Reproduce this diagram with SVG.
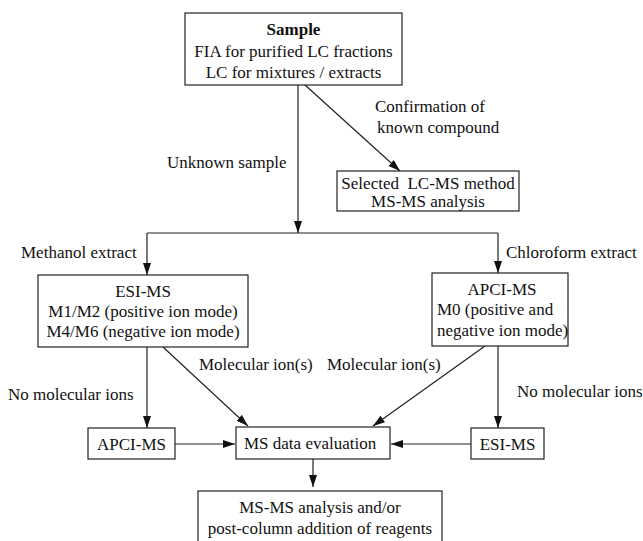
<svg xmlns="http://www.w3.org/2000/svg" width="643" height="541" viewBox="0 0 643 541">
<style>
text{font-family:"Liberation Serif","Times New Roman",serif;font-size:17px;fill:#111;white-space:pre}
.c{text-anchor:middle}
.b{font-weight:bold}
rect{fill:#fff;stroke:#222;stroke-width:1.2}
line{stroke:#222;stroke-width:1.2;fill:none}
.a{marker-end:url(#ah)}
</style>
<defs>
<marker id="ah" markerUnits="userSpaceOnUse" markerWidth="13" markerHeight="9" refX="12" refY="4" orient="auto">
<path d="M0,0 L12,4 L0,8 z" fill="#111"/>
</marker>
</defs>
<rect width="643" height="541" style="fill:#fff;stroke:none"/>
<g id="connectors">
<line x1="298" y1="85" x2="298" y2="233" class="a"/>
<line x1="305" y1="85" x2="400" y2="171" class="a"/>
<line x1="147" y1="233" x2="498" y2="233"/>
<line x1="147" y1="233" x2="147" y2="275" class="a"/>
<line x1="498" y1="233" x2="498" y2="273" class="a"/>
<line x1="147" y1="347" x2="147" y2="428" class="a"/>
<line x1="163" y1="347" x2="248" y2="426" class="a"/>
<line x1="485" y1="346" x2="373" y2="426" class="a"/>
<line x1="498" y1="346" x2="498" y2="428" class="a"/>
<line x1="175" y1="444" x2="235" y2="444" class="a"/>
<line x1="471" y1="444" x2="391" y2="444" class="a"/>
<line x1="313" y1="459" x2="313" y2="487" class="a"/>
<text x="375" y="112">Confirmation of</text>
<text x="377" y="133">known compound</text>
<text x="167" y="168">Unknown sample</text>
<text x="21" y="258">Methanol extract</text>
<text x="506" y="258">Chloroform extract</text>
<text x="199" y="370">Molecular ion(s)</text>
<text x="327" y="370">Molecular ion(s)</text>
<text x="8" y="400">No molecular ions</text>
<text x="517" y="397">No molecular ions</text>
</g>
<g id="sample">
<rect x="185" y="13" width="217" height="72"/>
<text x="293.5" y="35" class="c b">Sample</text>
<text x="293.5" y="57" class="c">FIA for purified LC fractions</text>
<text x="293.5" y="78" class="c">LC for mixtures / extracts</text>
</g>
<g id="selected">
<rect x="337" y="171" width="182" height="40"/>
<text x="428" y="189" class="c">Selected  LC-MS method</text>
<text x="428" y="207" class="c">MS-MS analysis</text>
</g>
<g id="esi">
<rect x="38" y="275" width="210" height="72"/>
<text x="143" y="297" class="c">ESI-MS</text>
<text x="143" y="317" class="c">M1/M2 (positive ion mode)</text>
<text x="143" y="337" class="c">M4/M6 (negative ion mode)</text>
</g>
<g id="apci">
<rect x="432" y="273" width="136" height="73"/>
<text x="502" y="295" class="c">APCI-MS</text>
<text x="437" y="315">M0 (positive and</text>
<text x="437" y="336">negative ion mode)</text>
</g>
<g id="apci2">
<rect x="88" y="428" width="87" height="31"/>
<text x="131.5" y="450" class="c">APCI-MS</text>
</g>
<g id="msdata">
<rect x="236" y="427" width="154" height="32"/>
<text x="244" y="449">MS data evaluation</text>
</g>
<g id="esi2">
<rect x="471" y="428" width="73" height="31"/>
<text x="507.5" y="450" class="c">ESI-MS</text>
</g>
<g id="msms">
<rect x="198" y="491" width="244" height="56"/>
<text x="320" y="513" class="c">MS-MS analysis and/or</text>
<text x="320" y="534" class="c">post-column addition of reagents</text>
</g>
</svg>
